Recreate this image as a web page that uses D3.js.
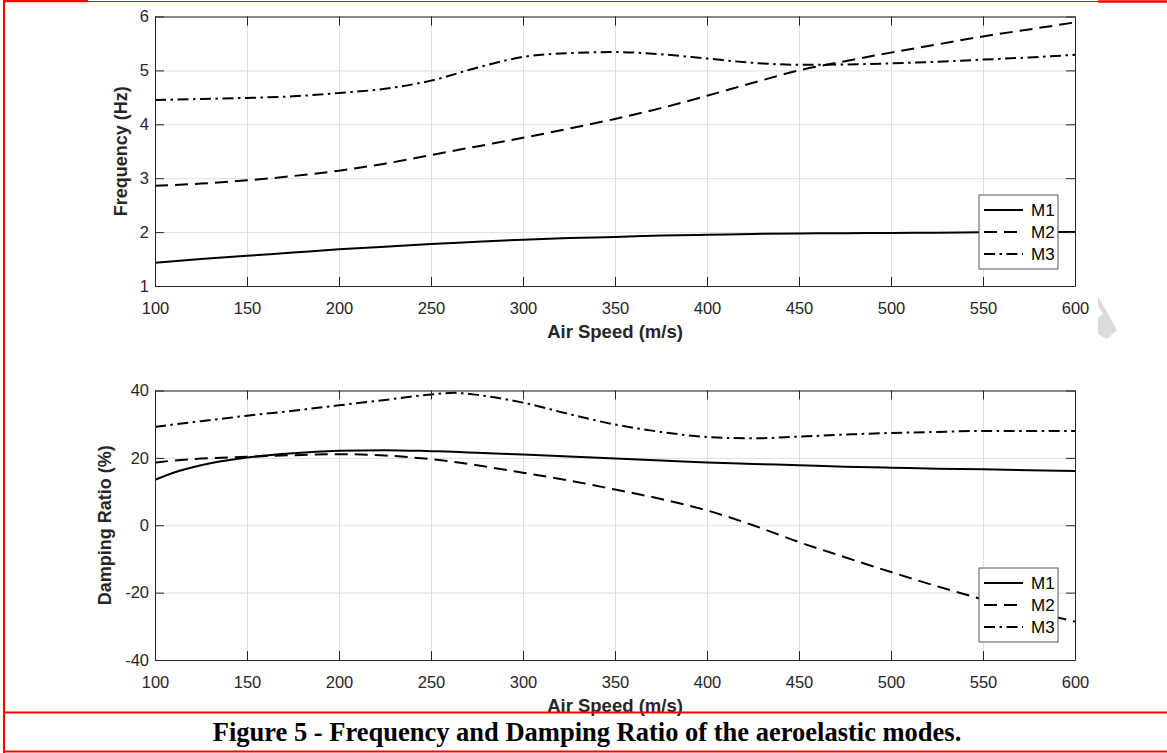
<!DOCTYPE html>
<html>
<head>
<meta charset="utf-8">
<style>
body { margin: 0; background: #fff; }
svg { display: block; }
.tick text { font-family: "Liberation Sans", Arial, Helvetica, sans-serif; }
</style>
</head>
<body>
<div id="app"></div>
<script src="https://d3js.org/d3.v7.min.js"></script>
<script>
// --- data ---
const modes = ["M1", "M2", "M3"];
const xTicks = [100, 150, 200, 250, 300, 350, 400, 450, 500, 550, 600];

const freqSpeed = [100, 125, 150, 175, 200, 225, 250, 275, 300, 325, 350, 375, 400, 425, 450, 475, 500, 525, 550, 575, 600];
const freqM1 = [1.43, 1.50, 1.56, 1.62, 1.68, 1.73, 1.78, 1.82, 1.86, 1.89, 1.91, 1.935, 1.95, 1.965, 1.975, 1.98, 1.985, 1.99, 1.995, 2.0, 2.0];
const freqM2 = [2.86, 2.90, 2.96, 3.04, 3.14, 3.27, 3.43, 3.59, 3.75, 3.92, 4.10, 4.30, 4.53, 4.77, 5.00, 5.17, 5.33, 5.48, 5.63, 5.76, 5.89];
const freqM3 = [4.45, 4.47, 4.49, 4.52, 4.58, 4.66, 4.81, 5.05, 5.25, 5.32, 5.34, 5.30, 5.22, 5.14, 5.105, 5.11, 5.13, 5.16, 5.20, 5.24, 5.29];
const freqTicks = [1, 2, 3, 4, 5, 6];

const dampSpeed = [100, 110, 125, 150, 175, 200, 225, 250, 262.5, 275, 300, 325, 350, 375, 400, 425, 450, 475, 500, 525, 550, 575, 600];
const dampM1 = [13.5, 15.6, 17.8, 20.1, 21.4, 22.1, 22.3, 22.0, 21.8, 21.5, 21.0, 20.4, 19.8, 19.2, 18.6, 18.2, 17.8, 17.4, 17.1, 16.8, 16.6, 16.3, 16.1];
const dampM2 = [18.6, 19.2, 19.8, 20.3, 20.8, 21.1, 20.7, 19.6, 18.8, 17.8, 15.6, 13.3, 10.6, 7.8, 4.4, 0.0, -5.0, -9.5, -13.9, -18.1, -22.0, -25.4, -28.6];
const dampM3 = [29.2, 29.9, 30.9, 32.5, 34.0, 35.6, 37.2, 38.8, 39.3, 38.7, 36.4, 33.0, 29.9, 27.7, 26.2, 25.8, 26.3, 26.9, 27.4, 27.7, 28.0, 28.0, 28.0];
const dampTicks = [-40, -20, 0, 20, 40];

const caption = "Figure 5 - Frequency and Damping Ratio of the aeroelastic modes.";

// --- layout ---
const width = 1167, height = 753;
const axColor = "#262626";
const gridColor = "#dfdfdf";
const dashes = {M1: null, M2: "13,7", M3: "11,4.5,2.5,4.5"};
const plain = d => String(d);   // "-40", not the unicode minus

const svg = d3.select("#app").append("svg")
    .attr("width", width)
    .attr("height", height);

svg.append("rect").attr("width", width).attr("height", height).attr("fill", "#fff");

function panel(opt) {
  const x = d3.scaleLinear().domain([100, 600]).range([155, 1075]);
  const y = d3.scaleLinear().domain(opt.yDomain).range([opt.bottom, opt.top]);
  const g = svg.append("g");
  const id = "clip" + Math.round(opt.top);

  g.append("clipPath").attr("id", id)
    .append("rect")
      .attr("x", x.range()[0]).attr("y", opt.top)
      .attr("width", x.range()[1] - x.range()[0])
      .attr("height", opt.bottom - opt.top);

  // grid
  g.append("g")
      .attr("transform", `translate(0,${opt.bottom})`)
      .call(d3.axisBottom(x).tickValues(xTicks).tickSize(-(opt.bottom - opt.top)).tickFormat(""))
      .call(s => s.select(".domain").remove())
      .call(s => s.selectAll("line").attr("stroke", gridColor));
  g.append("g")
      .attr("transform", `translate(${x.range()[0]},0)`)
      .call(d3.axisLeft(y).tickValues(opt.yTicks).tickSize(-(x.range()[1] - x.range()[0])).tickFormat(""))
      .call(s => s.select(".domain").remove())
      .call(s => s.selectAll("line").attr("stroke", gridColor));

  // curves
  const line = d3.line()
      .x(d => x(d[0]))
      .y(d => y(d[1]))
      .curve(d3.curveMonotoneX);
  g.append("g")
      .attr("clip-path", `url(#${id})`)
    .selectAll("path")
    .data(opt.series)
    .join("path")
      .attr("fill", "none")
      .attr("stroke", "#000")
      .attr("stroke-width", 2)
      .attr("stroke-dasharray", d => dashes[d.key])
      .attr("d", d => line(d.values.map((v, i) => [opt.speed[i], v])));

  // axes: box with inward ticks on all sides
  const tk = 9;
  g.append("g")
      .attr("transform", `translate(0,${opt.bottom})`)
      .call(d3.axisBottom(x).tickValues(xTicks).tickFormat(plain).tickSizeInner(-tk).tickSizeOuter(0).tickPadding(16))
      .call(s => s.select(".domain").attr("stroke", axColor))
      .call(s => s.selectAll(".tick line").attr("stroke", axColor))
      .call(s => s.selectAll(".tick text").attr("fill", axColor).attr("font-size", 16.5));
  g.append("g")
      .attr("transform", `translate(0,${opt.top})`)
      .call(d3.axisTop(x).tickValues(xTicks).tickSizeInner(-tk).tickSizeOuter(0).tickFormat(""))
      .call(s => s.select(".domain").attr("stroke", axColor))
      .call(s => s.selectAll(".tick line").attr("stroke", axColor));
  g.append("g")
      .attr("transform", `translate(${x.range()[0]},0)`)
      .call(d3.axisLeft(y).tickValues(opt.yTicks).tickFormat(plain).tickSizeInner(-tk).tickSizeOuter(0).tickPadding(6))
      .call(s => s.select(".domain").attr("stroke", axColor))
      .call(s => s.selectAll(".tick line").attr("stroke", axColor))
      .call(s => s.selectAll(".tick text").attr("fill", axColor).attr("font-size", 16.5));
  g.append("g")
      .attr("transform", `translate(${x.range()[1]},0)`)
      .call(d3.axisRight(y).tickValues(opt.yTicks).tickSizeInner(-tk).tickSizeOuter(0).tickFormat(""))
      .call(s => s.select(".domain").attr("stroke", axColor))
      .call(s => s.selectAll(".tick line").attr("stroke", axColor));

  // axis titles
  g.append("text")
      .attr("x", (x.range()[0] + x.range()[1]) / 2)
      .attr("y", opt.bottom + 52)
      .attr("text-anchor", "middle")
      .attr("font-family", "Liberation Sans, Arial, sans-serif")
      .attr("font-weight", "bold")
      .attr("font-size", 18.5)
      .attr("fill", axColor)
      .text("Air Speed (m/s)");
  g.append("text")
      .attr("transform", `translate(${opt.yLabelX},${(opt.top + opt.bottom) / 2}) rotate(-90)`)
      .attr("text-anchor", "middle")
      .attr("font-family", "Liberation Sans, Arial, sans-serif")
      .attr("font-weight", "bold")
      .attr("font-size", 18)
      .attr("fill", axColor)
      .text(opt.yLabel);

  // legend
  const lg = g.append("g").attr("transform", `translate(979,${opt.legendTop})`);
  lg.append("rect")
      .attr("width", 79).attr("height", 74)
      .attr("fill", "#fff")
      .attr("stroke", "#555")
      .attr("stroke-width", 1);
  const rows = [15, 37, 59];
  modes.forEach((m, i) => {
    lg.append("line")
        .attr("x1", 5).attr("x2", 44)
        .attr("y1", rows[i]).attr("y2", rows[i])
        .attr("stroke", "#000").attr("stroke-width", 2)
        .attr("stroke-dasharray", dashes[m]);
    lg.append("text")
        .attr("x", 52).attr("y", rows[i])
        .attr("dy", "0.36em")
        .attr("font-family", "Liberation Sans, Arial, sans-serif")
        .attr("font-size", 17)
        .attr("fill", "#000")
        .text(m);
  });
}

panel({
  top: 16.5, bottom: 286, yDomain: [1, 6], yTicks: freqTicks,
  speed: freqSpeed, yLabel: "Frequency (Hz)", yLabelX: 127, legendTop: 195,
  series: [{key: "M1", values: freqM1}, {key: "M2", values: freqM2}, {key: "M3", values: freqM3}]
});

panel({
  top: 390.5, bottom: 660, yDomain: [-40, 40], yTicks: dampTicks,
  speed: dampSpeed, yLabel: "Damping Ratio (%)", yLabelX: 111, legendTop: 568,
  series: [{key: "M1", values: dampM1}, {key: "M2", values: dampM2}, {key: "M3", values: dampM3}]
});

// faint watermark fragment at the right edge
svg.append("polygon")
    .attr("points", "1098,296 1117,330 1107,339 1098,334 1098,318 1103,314 1098,306")
    .attr("fill", "#dcdcdc");

// page frame (red) and caption
const red = "#f00";
svg.append("line").attr("x1", 4).attr("x2", 4).attr("y1", 0).attr("y2", height)
    .attr("stroke", red).attr("stroke-width", 2);
svg.append("line").attr("x1", 3).attr("x2", 88).attr("y1", 1).attr("y2", 1)
    .attr("stroke", red).attr("stroke-width", 2.5);
svg.append("line").attr("x1", 88).attr("x2", 1098).attr("y1", 1.5).attr("y2", 1.5)
    .attr("stroke", red).attr("stroke-width", 1);
svg.append("line").attr("x1", 1098).attr("x2", width).attr("y1", 1.5).attr("y2", 1.5)
    .attr("stroke", red).attr("stroke-width", 2.5);
svg.append("line").attr("x1", 3).attr("x2", width).attr("y1", 712.5).attr("y2", 712.5)
    .attr("stroke", red).attr("stroke-width", 2);
svg.append("line").attr("x1", 3).attr("x2", width).attr("y1", 751.5).attr("y2", 751.5)
    .attr("stroke", red).attr("stroke-width", 2);

svg.append("text")
    .attr("x", 587)
    .attr("y", 741)
    .attr("text-anchor", "middle")
    .attr("font-family", "Liberation Serif, Times New Roman, serif")
    .attr("font-weight", "bold")
    .attr("font-size", 26.5)
    .attr("fill", "#000")
    .text(caption);
</script>
</body>
</html>
